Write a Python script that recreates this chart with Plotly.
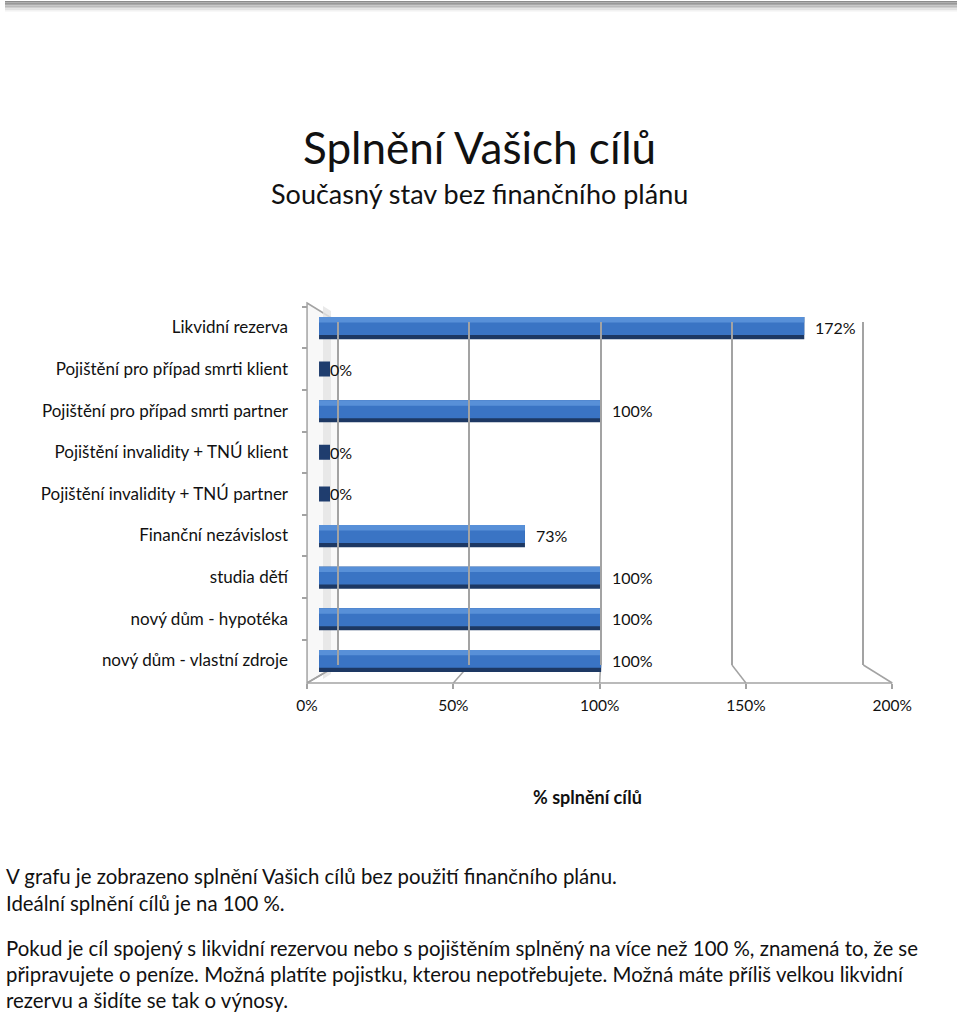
import plotly.graph_objects as go

# ---------------- data ----------------
categories = [
    "Likvidní rezerva",
    "Pojištění pro případ smrti klient",
    "Pojištění pro případ smrti partner",
    "Pojištění invalidity + TNÚ klient",
    "Pojištění invalidity + TNÚ partner",
    "Finanční nezávislost",
    "studia dětí",
    "nový dům - hypotéka",
    "nový dům - vlastní zdroje",
]
values = [172, 0, 100, 0, 0, 73, 100, 100, 100]
value_labels = [f"{v}%" for v in values]
x_ticks = [0, 50, 100, 150, 200]
x_tick_labels = ["0%", "50%", "100%", "150%", "200%"]
title_text = "Splnění Vašich cílů"
subtitle_text = "Současný stav bez finančního plánu"
axis_title_text = "% splnění cílů"
note_lines = [
    "V grafu je zobrazeno splnění Vašich cílů bez použití finančního plánu.",
    "Ideální splnění cílů je na 100 %.",
    "",
    "Pokud je cíl spojený s likvidní rezervou nebo s pojištěním splněný na více než 100 %, znamená to, že se",
    "připravujete o peníze. Možná platíte pojistku, kterou nepotřebujete. Možná máte příliš velkou likvidní",
    "rezervu a šidíte se tak o výnosy.",
]

# ---------------- layout geometry (pixels) ----------------
W, H = 960, 1012
FIG_W = 976
XOFF = 3.0
FONT = "Lato, 'Open Sans', sans-serif"
TXT = "#111111"
GRID = "#a3a3a3"


def px(p):
    return (p - XOFF) / W


def py(p):
    return 1 - p / H


BACK0, BACKK = 337.0, 2.635
MID0, MIDK = 318.0, 2.83
FRONT0, FRONTK = 306.0, 2.935
WALL_TOP_FRONT, WALL_TOP_BACK = 303.0, 322.0
FLOOR_BACK, FLOOR_FRONT = 665.0, 683.0
CAT_TOP, CAT_STEP = 327.5, 41.6
XMAX = 200


def back(v):
    return BACK0 + v * BACKK


def front(v):
    return FRONT0 + v * FRONTK


fig = go.Figure()

DEPTH = 3.9
fig.add_trace(go.Bar(
    y=categories, x=[DEPTH] * len(categories), orientation="h",
    width=0.36, offset=-0.18, marker=dict(color="#1f3d6e", line=dict(width=0)),
    hoverinfo="skip", showlegend=False, xaxis="x", yaxis="y",
))
fig.add_trace(go.Bar(
    y=categories, x=values, orientation="h",
    width=0.53, offset=-0.25, marker=dict(color="#1d3863", line=dict(width=0)),
    hoverinfo="skip", showlegend=False, xaxis="x", yaxis="y",
))
fig.add_trace(go.Bar(
    y=categories, x=values, orientation="h",
    width=0.43, offset=-0.25, marker=dict(color="#3a74c4", line=dict(width=0)),
    hoverinfo="skip", showlegend=False, xaxis="x", yaxis="y",
))
fig.add_trace(go.Bar(
    y=categories, x=values, orientation="h",
    width=0.13, offset=-0.25, marker=dict(color="#5890d8", line=dict(width=0)),
    hoverinfo="skip", showlegend=False, xaxis="x", yaxis="y",
))

fig.add_trace(go.Scatter(x=[None], y=[None], xaxis="x2", yaxis="y2", showlegend=False, hoverinfo="skip"))
fig.add_trace(go.Scatter(x=[None], y=[None], xaxis="x3", yaxis="y3", showlegend=False, hoverinfo="skip"))

annotations = []
for cat, v, lab in zip(categories, values, value_labels):
    annotations.append(dict(
        x=v, y=cat, xref="x", yref="y", text=lab, showarrow=False,
        xanchor="left", yanchor="middle", xshift=9,
        font=dict(family=FONT, size=16, color=TXT),
    ))

annotations += [
    dict(x=px(479), y=py(147), xref="paper", yref="paper", text=title_text, showarrow=False,
         xanchor="center", yanchor="middle", font=dict(family=FONT, size=44, color=TXT)),
    dict(x=px(479), y=py(193), xref="paper", yref="paper", text=subtitle_text, showarrow=False,
         xanchor="center", yanchor="middle", font=dict(family=FONT, size=27, color=TXT)),
    dict(x=px(587), y=py(797), xref="paper", yref="paper", text=f"<b>{axis_title_text}</b>",
         showarrow=False, xanchor="center", yanchor="middle",
         font=dict(family=FONT, size=18, color=TXT)),
]
note_y = [876, 903, 925, 948, 974, 1000]
for line, yy in zip(note_lines, note_y):
    if line:
        annotations.append(dict(
            x=px(2), y=py(yy), xref="paper", yref="paper", text=line, showarrow=False,
            xanchor="left", yanchor="middle", font=dict(family=FONT, size=20.4, color=TXT),
        ))

shapes = []
strip = ["#8c8c8c", "#999999", "#a9a9a9", "#bbbbbb", "#cfcfcf", "#e2e2e2", "#f2f2f2"]
for i, c in enumerate(strip):
    shapes.append(dict(type="rect", xref="paper", yref="paper",
                       x0=0, x1=px(958), y0=py(1 + i * 1.5), y1=py(1 + (i + 1) * 1.5),
                       fillcolor=c, line=dict(width=0), layer="above"))

wall = (f"M {px(front(0))},{py(WALL_TOP_FRONT)} L {px(back(0))},{py(WALL_TOP_BACK)} "
        f"L {px(back(0))},{py(FLOOR_BACK)} L {px(front(0))},{py(FLOOR_FRONT)} Z")
shapes.append(dict(type="path", xref="paper", yref="paper", path=wall,
                   fillcolor="#f8f8f8", line=dict(color=GRID, width=1.5), layer="below"))
band = (f"M {px(322)},{py(306)} L {px(330)},{py(311)} L {px(330)},{py(674)} L {px(322)},{py(679)} Z")
shapes.append(dict(type="path", xref="paper", yref="paper", path=band,
                   fillcolor="#e4e4e4", line=dict(width=0), layer="below", opacity=0.8))

shapes.append(dict(type="line", xref="paper", yref="paper",
                   x0=px(front(0)), x1=px(front(XMAX)), y0=py(FLOOR_FRONT), y1=py(FLOOR_FRONT),
                   line=dict(color=GRID, width=1.5), layer="below"))
for t in x_ticks:
    shapes.append(dict(type="line", xref="paper", yref="paper",
                       x0=px(back(t)), x1=px(front(t)), y0=py(FLOOR_BACK), y1=py(FLOOR_FRONT),
                       line=dict(color=GRID, width=1.5), layer="below"))

cat_top_px = CAT_TOP - CAT_STEP / 2
cat_bot_px = CAT_TOP + CAT_STEP * (len(categories) - 0.5)

fig.update_layout(
    width=FIG_W, height=H,
    autosize=False,
    margin=dict(l=0, r=0, t=0, b=0),
    paper_bgcolor="white", plot_bgcolor="rgba(0,0,0,0)",
    barmode="overlay",
    showlegend=False,
    annotations=annotations,
    shapes=shapes,
    font=dict(family=FONT, color=TXT),
    xaxis=dict(domain=[px(MID0), px(MID0 + XMAX * MIDK)], range=[0, XMAX], anchor="y",
               showgrid=False, zeroline=False, showticklabels=False, showline=False, fixedrange=True),
    yaxis=dict(domain=[py(cat_bot_px), py(cat_top_px)], type="category",
               categoryorder="array", categoryarray=categories, autorange="reversed",
               anchor="free", position=px(front(0)), showgrid=False, zeroline=False,
               showline=False, ticks="outside", ticklen=5, tickcolor=GRID, tickwidth=1.5,
               tickson="boundaries", ticklabelstandoff=19,
               tickfont=dict(family=FONT, size=17, color=TXT), fixedrange=True),
    xaxis2=dict(domain=[px(back(-2.6)), px(back(202.6))], range=[-2.6, 202.6], anchor="y2",
                tickmode="array", tickvals=x_ticks, showgrid=True, gridcolor=GRID, gridwidth=1.5,
                zeroline=False, showticklabels=False, showline=False, ticks="", fixedrange=True),
    yaxis2=dict(domain=[py(FLOOR_BACK), py(WALL_TOP_BACK)], range=[0, 1], visible=False,
                anchor="x2", fixedrange=True),
    xaxis3=dict(domain=[px(front(-2)), px(front(202))], range=[-2, 202], anchor="y3",
                tickmode="array", tickvals=x_ticks, ticktext=x_tick_labels,
                showgrid=False, zeroline=False, showline=False, ticks="outside", ticklen=5,
                tickcolor=GRID, tickwidth=1.5, ticklabelstandoff=3,
                tickfont=dict(family=FONT, size=15.5, color=TXT), fixedrange=True),
    yaxis3=dict(domain=[py(FLOOR_FRONT), py(FLOOR_FRONT - 4)], range=[0, 1], visible=False,
                anchor="x3", fixedrange=True),
)

fig.write_html(
    "out.html",
    config={"displayModeBar": False},
    post_script="document.body.style.margin='0px';document.body.style.overflow='hidden';",
)
